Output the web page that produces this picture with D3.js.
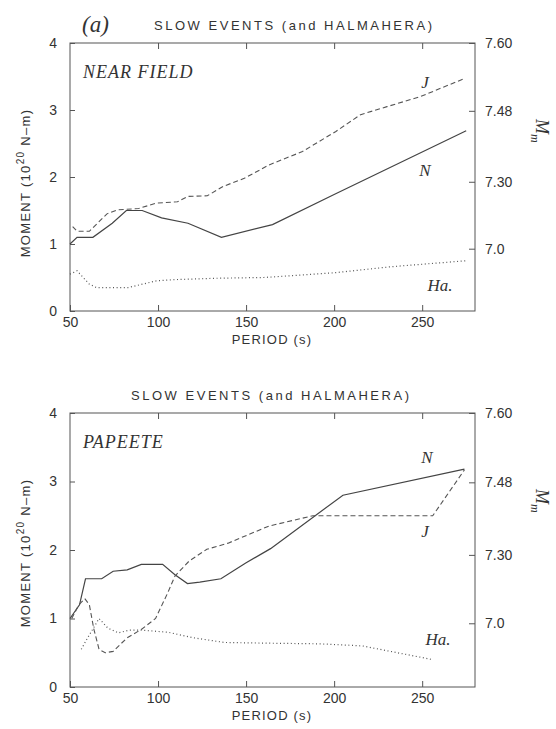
<!DOCTYPE html>
<html>
<head>
<meta charset="utf-8">
<script src="https://cdn.jsdelivr.net/npm/d3@7"></script>
<style>
  body { margin: 0; background: #fff; }
  .tick text { font-family: "Liberation Sans", "DejaVu Sans", sans-serif; font-size: 14px; fill: #333; }
  .tick line { stroke: #555; }
  .lab { font-family: "Liberation Sans", "DejaVu Sans", sans-serif; fill: #333; }
  .ital { font-family: "Liberation Serif", "DejaVu Serif", serif; font-style: italic; fill: #333; }
</style>
</head>
<body>
<script>
// tick values / labels
var periodTicks = [50, 100, 150, 200, 250];
var momentTicks = [0, 1, 2, 3, 4];
var mwTicks = [7.0, 7.30, 7.48, 7.60];
var mwLabels = ["7.0", "7.30", "7.48", "7.60"];

// NEAR FIELD panel  [period (s), moment (10^20 N-m)]
var nearN = [[50,1.0],[54,1.1],[63,1.1],[74,1.31],[82,1.5],[91,1.5],[102,1.39],[117,1.31],[136,1.1],[165,1.29],[200,1.74],[275,2.69]];
var nearJ = [[51.5,1.26],[54,1.19],[61,1.19],[71,1.45],[77,1.51],[89,1.53],[99,1.61],[111,1.63],[117,1.71],[128,1.72],[137,1.86],[149,1.98],[163,2.18],[182,2.38],[201,2.68],[215,2.93],[230,3.05],[249,3.2],[274,3.47]];
var nearHa = [[50,0.55],[54,0.6],[61,0.4],[65,0.35],[83,0.35],[91,0.4],[99,0.45],[111,0.47],[135,0.49],[160,0.5],[200,0.57],[232,0.66],[275,0.75]];

// PAPEETE panel
var papN = [[50,1.0],[55.4,1.2],[58.8,1.58],[68,1.58],[74.5,1.69],[82.5,1.71],[90.5,1.79],[102.6,1.79],[109.6,1.64],[116.7,1.51],[123.7,1.53],[135.7,1.58],[149.8,1.81],[163.9,2.02],[205,2.8],[274,3.18]];
var papJ = [[51,1.0],[55,1.2],[58.4,1.29],[61,1.2],[63.5,0.85],[66.5,0.55],[70,0.5],[74.5,0.52],[82.5,0.72],[90.5,0.84],[98.6,1.0],[105.6,1.38],[109.6,1.62],[117.7,1.84],[127.7,2.01],[139.8,2.1],[163,2.35],[188,2.5],[256,2.5],[274,3.17]];
var papHa = [[56.4,0.55],[59.4,0.69],[66.5,1.0],[71.5,0.86],[77.5,0.79],[83.5,0.83],[90.5,0.83],[105.6,0.8],[119.7,0.72],[137.8,0.65],[161.8,0.64],[192,0.63],[216,0.6],[232,0.52],[256,0.4]];

var svg = d3.select("body").append("svg").attr("width", 556).attr("height", 729);

// Mw right axis -> moment position
function mwToMoment(mw) { return 4 * Math.pow(10, (mw - 7.6) / 0.947); }

function panel(cfg) {
  var x = d3.scaleLinear().domain([50, 280]).range([70, 475]);
  var y = d3.scaleLinear().domain([0, 4]).range([cfg.y0, cfg.y4]);
  var g = svg.append("g");

  g.append("rect")
    .attr("x", 70).attr("y", cfg.y4)
    .attr("width", 405).attr("height", cfg.y0 - cfg.y4)
    .attr("fill", "none").attr("stroke", "#555").attr("stroke-width", 1);

  g.append("g").attr("transform", "translate(0," + cfg.y0 + ")")
    .call(d3.axisBottom(x).tickValues(periodTicks).tickSize(-6).tickPadding(6))
    .call(function(a){ a.select(".domain").remove(); });
  g.append("g").attr("transform", "translate(0," + cfg.y4 + ")")
    .call(d3.axisTop(x).tickValues(periodTicks.slice(1)).tickSize(-6).tickFormat(""))
    .call(function(a){ a.select(".domain").remove(); });
  g.append("g").attr("transform", "translate(70,0)")
    .call(d3.axisLeft(y).tickValues(momentTicks).tickSize(-5).tickPadding(13).tickFormat(d3.format("d")))
    .call(function(a){ a.select(".domain").remove(); });
  g.append("g").attr("transform", "translate(475,0)")
    .call(d3.axisRight(y).tickValues(mwTicks.map(mwToMoment)).tickSize(-6).tickPadding(10)
      .tickFormat(function(d, i){ return mwLabels[i]; }))
    .call(function(a){ a.select(".domain").remove(); });

  var line = d3.line().x(function(d){ return x(d[0]); }).y(function(d){ return y(d[1]); });
  g.append("path").attr("d", line(cfg.n)).attr("fill", "none").attr("stroke", "#444").attr("stroke-width", 1.2);
  g.append("path").attr("d", line(cfg.j)).attr("fill", "none").attr("stroke", "#555").attr("stroke-width", 1.1).attr("stroke-dasharray", "5,3");
  g.append("path").attr("d", line(cfg.ha)).attr("fill", "none").attr("stroke", "#555").attr("stroke-width", 1.2).attr("stroke-dasharray", "1,2.6");

  // titles and labels
  g.append("text").attr("class", "lab").attr("x", cfg.titleX).attr("y", cfg.titleY)
    .attr("font-size", 13).attr("textLength", 278).attr("lengthAdjust", "spacing")
    .text("SLOW EVENTS (and HALMAHERA)");
  g.append("text").attr("class", "ital").attr("x", 83).attr("y", cfg.y4 + 35)
    .attr("font-size", 18).attr("letter-spacing", 1).text(cfg.name);
  g.append("text").attr("class", "lab").attr("x", 272).attr("y", cfg.y0 + 33)
    .attr("text-anchor", "middle").attr("font-size", 13).attr("letter-spacing", 1.2).text("PERIOD (s)");

  var ml = g.append("text").attr("class", "lab").attr("font-size", 13).attr("letter-spacing", 1.3)
    .attr("text-anchor", "middle")
    .attr("transform", "translate(30," + cfg.momY + ") rotate(-90)");
  ml.append("tspan").text("MOMENT (10");
  ml.append("tspan").attr("dy", -6).attr("font-size", 10).text("20");
  ml.append("tspan").attr("dy", 6).text(" N\u2013m)");

  var mm = g.append("text").attr("class", "ital").attr("font-size", 18)
    .attr("transform", "translate(536," + (cfg.y4 + 76) + ") rotate(90)");
  mm.append("tspan").text("M");
  mm.append("tspan").attr("dy", 5).attr("font-size", 12).text("m");

  cfg.labels.forEach(function(l) {
    g.append("text").attr("class", "ital").attr("font-size", 17).attr("text-anchor", "middle")
      .attr("x", l[1]).attr("y", l[2]).text(l[0]);
  });
}

panel({ y0: 311, y4: 43, n: nearN, j: nearJ, ha: nearHa, name: "NEAR FIELD",
  titleX: 154, titleY: 30, momY: 183,
  labels: [["J", 425, 88], ["N", 425, 176], ["Ha.", 440, 291]] });

panel({ y0: 687, y4: 413, n: papN, j: papJ, ha: papHa, name: "PAPEETE",
  titleX: 131, titleY: 400, momY: 553,
  labels: [["N", 427, 463], ["J", 425, 537], ["Ha.", 438, 645]] });

svg.append("text").attr("class", "ital").attr("x", 82).attr("y", 32).attr("font-size", 23).text("(a)");
</script>
</body>
</html>
